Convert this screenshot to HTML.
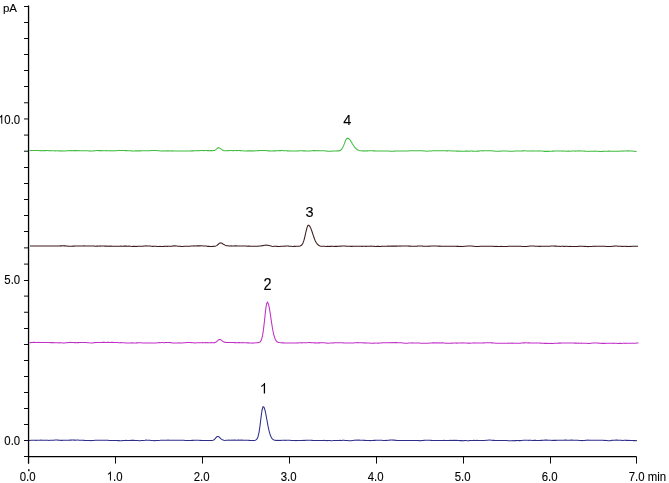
<!DOCTYPE html>
<html><head><meta charset="utf-8"><style>
html,body{margin:0;padding:0;background:#fff;}
svg{display:block;will-change:transform;}
text{font-family:"Liberation Sans",sans-serif;fill:#000;stroke:#000;stroke-width:0.1px;}
</style></head><body>
<svg width="669" height="483" viewBox="0 0 669 483">
<rect width="669" height="483" fill="#fff"/>
<g stroke="#000" fill="none">
<line x1="28.55" y1="5.6" x2="28.55" y2="463.6" stroke-width="1.3"/>
<line x1="28.5" y1="456.5" x2="636.5" y2="456.5" stroke-width="1.25"/>
<g stroke-width="0.95"><line x1="24" y1="456.50" x2="28.5" y2="456.50"/><line x1="24" y1="440.50" x2="28.5" y2="440.50"/><line x1="24" y1="424.50" x2="28.5" y2="424.50"/><line x1="24" y1="408.50" x2="28.5" y2="408.50"/><line x1="24" y1="392.50" x2="28.5" y2="392.50"/><line x1="24" y1="376.50" x2="28.5" y2="376.50"/><line x1="24" y1="360.50" x2="28.5" y2="360.50"/><line x1="24" y1="344.50" x2="28.5" y2="344.50"/><line x1="24" y1="328.50" x2="28.5" y2="328.50"/><line x1="24" y1="312.25" x2="28.5" y2="312.25"/><line x1="24" y1="296.10" x2="28.5" y2="296.10"/><line x1="24" y1="280.50" x2="28.5" y2="280.50"/><line x1="24" y1="264.10" x2="28.5" y2="264.10"/><line x1="24" y1="247.88" x2="28.5" y2="247.88"/><line x1="24" y1="231.50" x2="28.5" y2="231.50"/><line x1="24" y1="215.50" x2="28.5" y2="215.50"/><line x1="24" y1="199.50" x2="28.5" y2="199.50"/><line x1="24" y1="183.50" x2="28.5" y2="183.50"/><line x1="24" y1="167.50" x2="28.5" y2="167.50"/><line x1="24" y1="151.21" x2="28.5" y2="151.21"/><line x1="24" y1="135.08" x2="28.5" y2="135.08"/><line x1="24" y1="118.95" x2="28.5" y2="118.95"/><line x1="24" y1="102.78" x2="28.5" y2="102.78"/><line x1="24" y1="86.50" x2="28.5" y2="86.50"/><line x1="24" y1="70.50" x2="28.5" y2="70.50"/><line x1="24" y1="54.50" x2="28.5" y2="54.50"/><line x1="24" y1="38.50" x2="28.5" y2="38.50"/><line x1="24" y1="22.50" x2="28.5" y2="22.50"/><line x1="24" y1="6.50" x2="28.5" y2="6.50"/><line x1="28.5" y1="456.5" x2="28.5" y2="463.6"/><line x1="115.5" y1="456.5" x2="115.5" y2="463.6"/><line x1="202.5" y1="456.5" x2="202.5" y2="463.6"/><line x1="289.5" y1="456.5" x2="289.5" y2="463.6"/><line x1="376.5" y1="456.5" x2="376.5" y2="463.6"/><line x1="463.5" y1="456.5" x2="463.5" y2="463.6"/><line x1="550.5" y1="456.5" x2="550.5" y2="463.6"/><line x1="636.5" y1="456.5" x2="636.5" y2="463.6"/></g>
</g>
<path d="M29.0,440.41 L30.0,440.42 L31.0,440.34 L32.0,440.28 L33.0,440.33 L34.0,440.30 L35.0,440.33 L36.0,440.38 L37.0,440.31 L38.0,440.25 L39.0,440.23 L40.0,440.20 L41.0,440.07 L42.0,440.20 L43.0,440.19 L44.0,440.25 L45.0,440.29 L46.0,440.28 L47.0,440.33 L48.0,440.33 L49.0,440.43 L50.0,440.32 L51.0,440.28 L52.0,440.25 L53.0,440.18 L54.0,440.15 L55.0,440.07 L56.0,440.04 L57.0,440.08 L58.0,440.11 L59.0,440.19 L60.0,440.19 L61.0,440.37 L62.0,440.37 L63.0,440.30 L64.0,440.31 L65.0,440.29 L66.0,440.25 L67.0,440.17 L68.0,440.24 L69.0,440.23 L70.0,440.14 L71.0,440.14 L72.0,440.08 L73.0,440.08 L74.0,440.12 L75.0,440.11 L76.0,440.21 L77.0,440.10 L78.0,440.09 L79.0,440.27 L80.0,440.24 L81.0,440.22 L82.0,440.32 L83.0,440.27 L84.0,440.36 L85.0,440.44 L86.0,440.46 L87.0,440.48 L88.0,440.46 L89.0,440.53 L90.0,440.53 L91.0,440.64 L92.0,440.58 L93.0,440.56 L94.0,440.40 L95.0,440.30 L96.0,440.31 L97.0,440.28 L98.0,440.23 L99.0,440.23 L100.0,440.24 L101.0,440.24 L102.0,440.17 L103.0,440.22 L104.0,440.21 L105.0,440.16 L106.0,440.17 L107.0,440.25 L108.0,440.29 L109.0,440.41 L110.0,440.50 L111.0,440.45 L112.0,440.55 L113.0,440.57 L114.0,440.59 L115.0,440.53 L116.0,440.55 L117.0,440.59 L118.0,440.61 L119.0,440.62 L120.0,440.68 L121.0,440.69 L122.0,440.64 L123.0,440.53 L124.0,440.51 L125.0,440.51 L126.0,440.38 L127.0,440.47 L128.0,440.49 L129.0,440.45 L130.0,440.42 L131.0,440.36 L132.0,440.29 L133.0,440.38 L134.0,440.33 L135.0,440.46 L136.0,440.55 L137.0,440.53 L138.0,440.60 L139.0,440.74 L140.0,440.72 L141.0,440.60 L142.0,440.52 L143.0,440.41 L144.0,440.41 L145.0,440.29 L146.0,440.10 L147.0,440.18 L148.0,440.23 L149.0,440.25 L150.0,440.30 L151.0,440.43 L152.0,440.46 L153.0,440.51 L154.0,440.69 L155.0,440.62 L156.0,440.55 L157.0,440.55 L158.0,440.40 L159.0,440.40 L160.0,440.34 L161.0,440.23 L162.0,440.23 L163.0,440.22 L164.0,440.20 L165.0,440.23 L166.0,440.17 L167.0,440.18 L168.0,440.13 L169.0,440.25 L170.0,440.16 L171.0,440.17 L172.0,440.19 L173.0,440.24 L174.0,440.16 L175.0,440.24 L176.0,440.18 L177.0,440.20 L178.0,440.22 L179.0,440.16 L180.0,440.25 L181.0,440.23 L182.0,440.21 L183.0,440.35 L184.0,440.29 L185.0,440.40 L186.0,440.51 L187.0,440.54 L188.0,440.54 L189.0,440.59 L190.0,440.58 L191.0,440.56 L192.0,440.38 L193.0,440.37 L194.0,440.24 L195.0,440.19 L196.0,440.25 L197.0,440.22 L198.0,440.27 L199.0,440.34 L200.0,440.42 L201.0,440.39 L202.0,440.45 L203.0,440.45 L204.0,440.45 L205.0,440.49 L206.0,440.45 L207.0,440.48 L208.0,440.47 L209.0,440.55 L210.0,440.51 L211.0,440.53 L212.0,440.47 L213.0,440.17 L214.0,439.75 L215.0,438.90 L216.0,437.65 L217.0,436.56 L218.0,436.42 L219.0,437.01 L220.0,437.86 L221.0,438.83 L222.0,439.54 L223.0,440.09 L224.0,440.34 L225.0,440.43 L226.0,440.30 L227.0,440.35 L228.0,440.28 L229.0,440.14 L230.0,440.22 L231.0,440.21 L232.0,440.09 L233.0,440.21 L234.0,440.12 L235.0,440.13 L236.0,440.21 L237.0,440.19 L238.0,440.08 L239.0,440.13 L240.0,440.16 L241.0,440.14 L242.0,440.14 L243.0,440.18 L244.0,440.25 L245.0,440.15 L246.0,440.25 L247.0,440.27 L248.0,440.26 L249.0,440.37 L250.0,440.47 L251.0,440.49 L252.0,440.44 L253.0,440.57 L254.0,440.49 L255.0,440.40 L256.0,439.90 L257.0,438.97 L258.0,436.73 L259.0,432.60 L260.0,425.87 L261.0,417.63 L262.0,410.25 L263.0,406.59 L264.0,407.25 L265.0,410.19 L266.0,414.87 L267.0,420.50 L268.0,425.89 L269.0,430.63 L270.0,434.20 L271.0,436.78 L272.0,438.54 L273.0,439.47 L274.0,439.93 L275.0,440.31 L276.0,440.36 L277.0,440.42 L278.0,440.31 L279.0,440.43 L280.0,440.30 L281.0,440.42 L282.0,440.35 L283.0,440.31 L284.0,440.32 L285.0,440.37 L286.0,440.25 L287.0,440.22 L288.0,440.30 L289.0,440.30 L290.0,440.33 L291.0,440.41 L292.0,440.45 L293.0,440.51 L294.0,440.55 L295.0,440.54 L296.0,440.61 L297.0,440.52 L298.0,440.54 L299.0,440.48 L300.0,440.50 L301.0,440.44 L302.0,440.46 L303.0,440.39 L304.0,440.45 L305.0,440.36 L306.0,440.25 L307.0,440.26 L308.0,440.32 L309.0,440.19 L310.0,440.34 L311.0,440.31 L312.0,440.37 L313.0,440.46 L314.0,440.42 L315.0,440.45 L316.0,440.47 L317.0,440.52 L318.0,440.41 L319.0,440.48 L320.0,440.45 L321.0,440.44 L322.0,440.40 L323.0,440.40 L324.0,440.39 L325.0,440.44 L326.0,440.47 L327.0,440.62 L328.0,440.57 L329.0,440.57 L330.0,440.55 L331.0,440.66 L332.0,440.65 L333.0,440.60 L334.0,440.52 L335.0,440.50 L336.0,440.50 L337.0,440.52 L338.0,440.43 L339.0,440.42 L340.0,440.34 L341.0,440.40 L342.0,440.36 L343.0,440.28 L344.0,440.25 L345.0,440.43 L346.0,440.41 L347.0,440.50 L348.0,440.53 L349.0,440.65 L350.0,440.68 L351.0,440.66 L352.0,440.54 L353.0,440.49 L354.0,440.30 L355.0,440.24 L356.0,440.13 L357.0,440.15 L358.0,440.11 L359.0,440.13 L360.0,440.21 L361.0,440.24 L362.0,440.33 L363.0,440.35 L364.0,440.39 L365.0,440.39 L366.0,440.43 L367.0,440.49 L368.0,440.46 L369.0,440.49 L370.0,440.62 L371.0,440.50 L372.0,440.57 L373.0,440.51 L374.0,440.34 L375.0,440.39 L376.0,440.33 L377.0,440.23 L378.0,440.23 L379.0,440.25 L380.0,440.17 L381.0,440.27 L382.0,440.31 L383.0,440.41 L384.0,440.43 L385.0,440.45 L386.0,440.39 L387.0,440.40 L388.0,440.32 L389.0,440.26 L390.0,440.13 L391.0,440.06 L392.0,440.06 L393.0,440.12 L394.0,440.14 L395.0,440.33 L396.0,440.36 L397.0,440.45 L398.0,440.50 L399.0,440.53 L400.0,440.50 L401.0,440.43 L402.0,440.57 L403.0,440.58 L404.0,440.55 L405.0,440.56 L406.0,440.58 L407.0,440.48 L408.0,440.57 L409.0,440.47 L410.0,440.42 L411.0,440.43 L412.0,440.49 L413.0,440.40 L414.0,440.49 L415.0,440.56 L416.0,440.51 L417.0,440.54 L418.0,440.59 L419.0,440.64 L420.0,440.67 L421.0,440.63 L422.0,440.58 L423.0,440.43 L424.0,440.36 L425.0,440.32 L426.0,440.35 L427.0,440.26 L428.0,440.31 L429.0,440.26 L430.0,440.31 L431.0,440.39 L432.0,440.50 L433.0,440.54 L434.0,440.55 L435.0,440.48 L436.0,440.51 L437.0,440.49 L438.0,440.48 L439.0,440.41 L440.0,440.52 L441.0,440.41 L442.0,440.53 L443.0,440.52 L444.0,440.38 L445.0,440.44 L446.0,440.50 L447.0,440.52 L448.0,440.44 L449.0,440.41 L450.0,440.39 L451.0,440.49 L452.0,440.36 L453.0,440.40 L454.0,440.32 L455.0,440.38 L456.0,440.46 L457.0,440.36 L458.0,440.52 L459.0,440.51 L460.0,440.62 L461.0,440.62 L462.0,440.56 L463.0,440.67 L464.0,440.61 L465.0,440.55 L466.0,440.56 L467.0,440.65 L468.0,440.66 L469.0,440.64 L470.0,440.59 L471.0,440.59 L472.0,440.53 L473.0,440.55 L474.0,440.36 L475.0,440.44 L476.0,440.44 L477.0,440.33 L478.0,440.48 L479.0,440.46 L480.0,440.52 L481.0,440.44 L482.0,440.47 L483.0,440.48 L484.0,440.56 L485.0,440.44 L486.0,440.33 L487.0,440.27 L488.0,440.17 L489.0,440.08 L490.0,440.07 L491.0,440.21 L492.0,440.18 L493.0,440.36 L494.0,440.33 L495.0,440.41 L496.0,440.50 L497.0,440.47 L498.0,440.50 L499.0,440.59 L500.0,440.57 L501.0,440.55 L502.0,440.52 L503.0,440.56 L504.0,440.56 L505.0,440.51 L506.0,440.56 L507.0,440.50 L508.0,440.65 L509.0,440.65 L510.0,440.72 L511.0,440.72 L512.0,440.66 L513.0,440.60 L514.0,440.72 L515.0,440.57 L516.0,440.61 L517.0,440.57 L518.0,440.56 L519.0,440.61 L520.0,440.61 L521.0,440.43 L522.0,440.42 L523.0,440.30 L524.0,440.30 L525.0,440.25 L526.0,440.22 L527.0,440.23 L528.0,440.25 L529.0,440.37 L530.0,440.32 L531.0,440.28 L532.0,440.40 L533.0,440.42 L534.0,440.36 L535.0,440.34 L536.0,440.39 L537.0,440.40 L538.0,440.47 L539.0,440.44 L540.0,440.44 L541.0,440.39 L542.0,440.36 L543.0,440.33 L544.0,440.23 L545.0,440.12 L546.0,440.10 L547.0,440.13 L548.0,440.15 L549.0,440.19 L550.0,440.20 L551.0,440.29 L552.0,440.44 L553.0,440.32 L554.0,440.37 L555.0,440.36 L556.0,440.37 L557.0,440.22 L558.0,440.20 L559.0,440.17 L560.0,440.18 L561.0,440.19 L562.0,440.27 L563.0,440.24 L564.0,440.24 L565.0,440.10 L566.0,440.10 L567.0,440.20 L568.0,440.23 L569.0,440.16 L570.0,440.17 L571.0,440.07 L572.0,440.12 L573.0,440.21 L574.0,440.19 L575.0,440.22 L576.0,440.30 L577.0,440.26 L578.0,440.33 L579.0,440.42 L580.0,440.54 L581.0,440.59 L582.0,440.61 L583.0,440.52 L584.0,440.43 L585.0,440.37 L586.0,440.25 L587.0,440.21 L588.0,440.10 L589.0,440.23 L590.0,440.15 L591.0,440.27 L592.0,440.24 L593.0,440.20 L594.0,440.19 L595.0,440.21 L596.0,440.28 L597.0,440.30 L598.0,440.22 L599.0,440.23 L600.0,440.32 L601.0,440.34 L602.0,440.32 L603.0,440.31 L604.0,440.41 L605.0,440.37 L606.0,440.48 L607.0,440.56 L608.0,440.68 L609.0,440.65 L610.0,440.66 L611.0,440.52 L612.0,440.39 L613.0,440.29 L614.0,440.32 L615.0,440.21 L616.0,440.12 L617.0,440.08 L618.0,440.19 L619.0,440.26 L620.0,440.27 L621.0,440.29 L622.0,440.38 L623.0,440.44 L624.0,440.33 L625.0,440.31 L626.0,440.37 L627.0,440.39 L628.0,440.45 L629.0,440.38 L630.0,440.48 L631.0,440.48 L632.0,440.47 L633.0,440.46 L634.0,440.63 L635.0,440.56 L636.0,440.67 L637.0,440.59" fill="none" stroke="#2e2e8a" stroke-width="1.05" stroke-linejoin="round"/><path d="M29.5,342.65 L30.5,342.61 L31.5,342.58 L32.5,342.43 L33.5,342.37 L34.5,342.36 L35.5,342.42 L36.5,342.46 L37.5,342.42 L38.5,342.39 L39.5,342.42 L40.5,342.46 L41.5,342.47 L42.5,342.49 L43.5,342.52 L44.5,342.51 L45.5,342.45 L46.5,342.59 L47.5,342.52 L48.5,342.58 L49.5,342.55 L50.5,342.63 L51.5,342.57 L52.5,342.61 L53.5,342.64 L54.5,342.65 L55.5,342.78 L56.5,342.74 L57.5,342.72 L58.5,342.76 L59.5,342.89 L60.5,342.85 L61.5,342.84 L62.5,342.95 L63.5,342.92 L64.5,342.93 L65.5,342.70 L66.5,342.66 L67.5,342.62 L68.5,342.54 L69.5,342.50 L70.5,342.36 L71.5,342.41 L72.5,342.41 L73.5,342.46 L74.5,342.61 L75.5,342.58 L76.5,342.65 L77.5,342.56 L78.5,342.63 L79.5,342.55 L80.5,342.49 L81.5,342.56 L82.5,342.56 L83.5,342.42 L84.5,342.50 L85.5,342.56 L86.5,342.57 L87.5,342.69 L88.5,342.75 L89.5,342.84 L90.5,342.90 L91.5,342.95 L92.5,342.91 L93.5,342.75 L94.5,342.62 L95.5,342.57 L96.5,342.54 L97.5,342.41 L98.5,342.42 L99.5,342.40 L100.5,342.49 L101.5,342.44 L102.5,342.35 L103.5,342.35 L104.5,342.39 L105.5,342.41 L106.5,342.43 L107.5,342.34 L108.5,342.36 L109.5,342.44 L110.5,342.40 L111.5,342.38 L112.5,342.39 L113.5,342.51 L114.5,342.45 L115.5,342.53 L116.5,342.54 L117.5,342.59 L118.5,342.68 L119.5,342.71 L120.5,342.64 L121.5,342.67 L122.5,342.82 L123.5,342.80 L124.5,342.82 L125.5,342.99 L126.5,342.92 L127.5,342.99 L128.5,342.92 L129.5,342.99 L130.5,342.93 L131.5,342.88 L132.5,342.85 L133.5,342.94 L134.5,342.95 L135.5,342.97 L136.5,342.82 L137.5,342.89 L138.5,342.84 L139.5,342.85 L140.5,342.79 L141.5,342.83 L142.5,342.90 L143.5,343.00 L144.5,342.90 L145.5,342.99 L146.5,343.06 L147.5,343.09 L148.5,342.96 L149.5,342.95 L150.5,343.07 L151.5,343.07 L152.5,342.98 L153.5,342.91 L154.5,343.05 L155.5,342.92 L156.5,342.94 L157.5,342.82 L158.5,342.78 L159.5,342.61 L160.5,342.68 L161.5,342.58 L162.5,342.60 L163.5,342.66 L164.5,342.64 L165.5,342.52 L166.5,342.51 L167.5,342.53 L168.5,342.56 L169.5,342.58 L170.5,342.62 L171.5,342.74 L172.5,342.91 L173.5,343.01 L174.5,342.92 L175.5,343.01 L176.5,343.03 L177.5,342.90 L178.5,343.01 L179.5,342.87 L180.5,342.93 L181.5,342.91 L182.5,342.91 L183.5,342.82 L184.5,342.76 L185.5,342.70 L186.5,342.59 L187.5,342.55 L188.5,342.47 L189.5,342.47 L190.5,342.45 L191.5,342.61 L192.5,342.67 L193.5,342.71 L194.5,342.86 L195.5,342.90 L196.5,342.85 L197.5,342.79 L198.5,342.81 L199.5,342.72 L200.5,342.69 L201.5,342.71 L202.5,342.63 L203.5,342.69 L204.5,342.70 L205.5,342.63 L206.5,342.72 L207.5,342.63 L208.5,342.74 L209.5,342.75 L210.5,342.70 L211.5,342.63 L212.5,342.69 L213.5,342.65 L214.5,342.64 L215.5,342.23 L216.5,341.71 L217.5,340.76 L218.5,339.76 L219.5,339.41 L220.5,339.60 L221.5,340.40 L222.5,341.10 L223.5,341.84 L224.5,342.27 L225.5,342.37 L226.5,342.56 L227.5,342.60 L228.5,342.45 L229.5,342.49 L230.5,342.54 L231.5,342.45 L232.5,342.58 L233.5,342.52 L234.5,342.64 L235.5,342.57 L236.5,342.65 L237.5,342.74 L238.5,342.63 L239.5,342.64 L240.5,342.69 L241.5,342.67 L242.5,342.63 L243.5,342.67 L244.5,342.67 L245.5,342.80 L246.5,342.80 L247.5,342.89 L248.5,342.85 L249.5,343.03 L250.5,342.99 L251.5,343.09 L252.5,343.11 L253.5,343.01 L254.5,343.01 L255.5,342.85 L256.5,342.75 L257.5,342.69 L258.5,342.44 L259.5,342.30 L260.5,341.51 L261.5,339.64 L262.5,335.91 L263.5,329.38 L264.5,320.64 L265.5,311.08 L266.5,303.96 L267.5,302.07 L268.5,304.13 L269.5,308.84 L270.5,315.33 L271.5,322.07 L272.5,328.49 L273.5,333.53 L274.5,337.32 L275.5,339.83 L276.5,341.24 L277.5,342.06 L278.5,342.42 L279.5,342.56 L280.5,342.65 L281.5,342.72 L282.5,342.86 L283.5,342.89 L284.5,342.96 L285.5,343.08 L286.5,342.98 L287.5,343.00 L288.5,343.07 L289.5,342.97 L290.5,342.97 L291.5,343.03 L292.5,342.99 L293.5,343.03 L294.5,343.01 L295.5,343.04 L296.5,343.00 L297.5,342.89 L298.5,342.91 L299.5,342.85 L300.5,342.77 L301.5,342.89 L302.5,342.76 L303.5,342.71 L304.5,342.65 L305.5,342.69 L306.5,342.69 L307.5,342.65 L308.5,342.59 L309.5,342.60 L310.5,342.60 L311.5,342.76 L312.5,342.80 L313.5,342.81 L314.5,342.88 L315.5,342.86 L316.5,342.93 L317.5,342.89 L318.5,342.80 L319.5,342.89 L320.5,342.74 L321.5,342.82 L322.5,342.80 L323.5,342.81 L324.5,342.84 L325.5,343.02 L326.5,342.97 L327.5,343.11 L328.5,343.21 L329.5,343.08 L330.5,343.05 L331.5,343.04 L332.5,342.93 L333.5,342.87 L334.5,342.82 L335.5,342.67 L336.5,342.69 L337.5,342.70 L338.5,342.68 L339.5,342.83 L340.5,342.84 L341.5,342.85 L342.5,342.75 L343.5,342.89 L344.5,342.91 L345.5,342.92 L346.5,343.03 L347.5,343.05 L348.5,343.07 L349.5,343.09 L350.5,343.10 L351.5,343.02 L352.5,342.98 L353.5,342.94 L354.5,342.82 L355.5,342.76 L356.5,342.68 L357.5,342.61 L358.5,342.68 L359.5,342.70 L360.5,342.80 L361.5,342.81 L362.5,342.81 L363.5,342.89 L364.5,342.95 L365.5,342.86 L366.5,343.01 L367.5,342.92 L368.5,343.01 L369.5,343.05 L370.5,343.16 L371.5,343.19 L372.5,343.16 L373.5,343.09 L374.5,343.17 L375.5,343.08 L376.5,343.06 L377.5,343.17 L378.5,343.12 L379.5,343.08 L380.5,343.01 L381.5,342.97 L382.5,342.79 L383.5,342.78 L384.5,342.71 L385.5,342.73 L386.5,342.67 L387.5,342.71 L388.5,342.69 L389.5,342.65 L390.5,342.63 L391.5,342.70 L392.5,342.61 L393.5,342.75 L394.5,342.63 L395.5,342.61 L396.5,342.63 L397.5,342.77 L398.5,342.68 L399.5,342.65 L400.5,342.69 L401.5,342.78 L402.5,342.99 L403.5,343.09 L404.5,343.19 L405.5,343.25 L406.5,343.15 L407.5,343.19 L408.5,343.09 L409.5,343.08 L410.5,343.00 L411.5,342.94 L412.5,342.77 L413.5,342.90 L414.5,342.93 L415.5,342.99 L416.5,342.92 L417.5,343.00 L418.5,343.03 L419.5,343.05 L420.5,343.19 L421.5,343.20 L422.5,343.18 L423.5,343.23 L424.5,343.22 L425.5,343.18 L426.5,343.16 L427.5,343.16 L428.5,343.23 L429.5,343.09 L430.5,343.04 L431.5,342.99 L432.5,342.86 L433.5,342.87 L434.5,342.87 L435.5,342.93 L436.5,342.87 L437.5,342.86 L438.5,342.95 L439.5,342.87 L440.5,342.93 L441.5,342.89 L442.5,342.84 L443.5,342.98 L444.5,343.07 L445.5,343.21 L446.5,343.21 L447.5,343.31 L448.5,343.29 L449.5,343.22 L450.5,343.29 L451.5,343.12 L452.5,343.20 L453.5,343.06 L454.5,343.01 L455.5,343.04 L456.5,343.11 L457.5,343.11 L458.5,342.91 L459.5,342.94 L460.5,342.91 L461.5,342.93 L462.5,342.84 L463.5,342.92 L464.5,342.94 L465.5,343.08 L466.5,343.04 L467.5,343.20 L468.5,343.12 L469.5,343.11 L470.5,343.17 L471.5,343.10 L472.5,342.98 L473.5,343.02 L474.5,342.89 L475.5,342.98 L476.5,342.96 L477.5,342.97 L478.5,342.95 L479.5,342.90 L480.5,342.90 L481.5,342.90 L482.5,342.97 L483.5,342.84 L484.5,342.96 L485.5,342.79 L486.5,342.79 L487.5,342.76 L488.5,342.84 L489.5,342.76 L490.5,342.74 L491.5,342.87 L492.5,342.85 L493.5,342.98 L494.5,343.09 L495.5,343.20 L496.5,343.25 L497.5,343.24 L498.5,343.20 L499.5,343.22 L500.5,343.21 L501.5,343.34 L502.5,343.33 L503.5,343.35 L504.5,343.26 L505.5,343.29 L506.5,343.31 L507.5,343.25 L508.5,343.14 L509.5,343.17 L510.5,343.22 L511.5,343.12 L512.5,343.13 L513.5,343.18 L514.5,343.28 L515.5,343.35 L516.5,343.27 L517.5,343.29 L518.5,343.30 L519.5,343.26 L520.5,343.19 L521.5,343.02 L522.5,342.93 L523.5,342.82 L524.5,342.89 L525.5,342.84 L526.5,342.76 L527.5,342.92 L528.5,342.81 L529.5,342.88 L530.5,343.00 L531.5,342.98 L532.5,342.98 L533.5,342.94 L534.5,342.93 L535.5,343.03 L536.5,342.98 L537.5,343.02 L538.5,343.07 L539.5,343.02 L540.5,343.11 L541.5,343.22 L542.5,343.27 L543.5,343.30 L544.5,343.37 L545.5,343.37 L546.5,343.33 L547.5,343.40 L548.5,343.37 L549.5,343.42 L550.5,343.45 L551.5,343.38 L552.5,343.40 L553.5,343.42 L554.5,343.34 L555.5,343.25 L556.5,343.26 L557.5,343.21 L558.5,343.14 L559.5,343.09 L560.5,343.11 L561.5,343.08 L562.5,343.06 L563.5,343.01 L564.5,342.97 L565.5,343.01 L566.5,342.92 L567.5,342.97 L568.5,343.04 L569.5,343.05 L570.5,343.06 L571.5,343.02 L572.5,343.07 L573.5,343.09 L574.5,343.11 L575.5,343.09 L576.5,343.14 L577.5,343.19 L578.5,343.08 L579.5,343.16 L580.5,343.18 L581.5,343.13 L582.5,343.17 L583.5,343.29 L584.5,343.20 L585.5,343.34 L586.5,343.32 L587.5,343.45 L588.5,343.47 L589.5,343.36 L590.5,343.22 L591.5,343.20 L592.5,343.10 L593.5,343.05 L594.5,342.97 L595.5,343.00 L596.5,343.06 L597.5,343.08 L598.5,343.14 L599.5,343.31 L600.5,343.25 L601.5,343.37 L602.5,343.33 L603.5,343.38 L604.5,343.28 L605.5,343.41 L606.5,343.30 L607.5,343.25 L608.5,343.28 L609.5,343.30 L610.5,343.24 L611.5,343.32 L612.5,343.33 L613.5,343.39 L614.5,343.34 L615.5,343.33 L616.5,343.33 L617.5,343.41 L618.5,343.44 L619.5,343.36 L620.5,343.31 L621.5,343.40 L622.5,343.33 L623.5,343.30 L624.5,343.28 L625.5,343.37 L626.5,343.35 L627.5,343.30 L628.5,343.26 L629.5,343.27 L630.5,343.21 L631.5,343.31 L632.5,343.19 L633.5,343.20 L634.5,343.19 L635.5,343.16 L636.5,343.09 L637.5,343.06 L638.5,343.10" fill="none" stroke="#c030c8" stroke-width="1.05" stroke-linejoin="round"/><path d="M30.0,246.03 L31.0,245.97 L32.0,246.00 L33.0,245.98 L34.0,246.02 L35.0,246.10 L36.0,246.05 L37.0,246.06 L38.0,245.97 L39.0,245.95 L40.0,245.94 L41.0,245.97 L42.0,245.98 L43.0,246.01 L44.0,245.90 L45.0,246.03 L46.0,246.08 L47.0,246.05 L48.0,245.98 L49.0,246.03 L50.0,245.98 L51.0,245.98 L52.0,246.07 L53.0,245.99 L54.0,245.97 L55.0,245.97 L56.0,245.99 L57.0,245.93 L58.0,245.92 L59.0,245.90 L60.0,245.89 L61.0,245.85 L62.0,245.85 L63.0,245.77 L64.0,245.86 L65.0,245.89 L66.0,246.03 L67.0,246.01 L68.0,246.11 L69.0,246.15 L70.0,246.29 L71.0,246.30 L72.0,246.22 L73.0,246.12 L74.0,246.14 L75.0,246.08 L76.0,246.01 L77.0,245.95 L78.0,245.95 L79.0,245.97 L80.0,245.95 L81.0,245.96 L82.0,245.99 L83.0,246.04 L84.0,245.89 L85.0,245.98 L86.0,245.90 L87.0,245.92 L88.0,246.04 L89.0,246.01 L90.0,246.07 L91.0,245.99 L92.0,245.93 L93.0,246.00 L94.0,246.06 L95.0,246.14 L96.0,246.17 L97.0,246.10 L98.0,246.10 L99.0,246.05 L100.0,246.13 L101.0,246.05 L102.0,246.04 L103.0,246.01 L104.0,246.00 L105.0,246.11 L106.0,246.03 L107.0,246.18 L108.0,246.07 L109.0,246.22 L110.0,246.12 L111.0,246.12 L112.0,246.24 L113.0,246.17 L114.0,246.25 L115.0,246.17 L116.0,246.15 L117.0,246.27 L118.0,246.26 L119.0,246.28 L120.0,246.25 L121.0,246.12 L122.0,246.18 L123.0,246.15 L124.0,246.08 L125.0,246.13 L126.0,246.01 L127.0,246.14 L128.0,246.15 L129.0,246.11 L130.0,246.18 L131.0,246.35 L132.0,246.42 L133.0,246.32 L134.0,246.36 L135.0,246.42 L136.0,246.32 L137.0,246.42 L138.0,246.35 L139.0,246.28 L140.0,246.33 L141.0,246.33 L142.0,246.24 L143.0,246.19 L144.0,246.00 L145.0,246.01 L146.0,245.88 L147.0,245.90 L148.0,245.92 L149.0,245.95 L150.0,246.04 L151.0,246.20 L152.0,246.32 L153.0,246.36 L154.0,246.35 L155.0,246.31 L156.0,246.28 L157.0,246.43 L158.0,246.40 L159.0,246.43 L160.0,246.36 L161.0,246.40 L162.0,246.46 L163.0,246.43 L164.0,246.37 L165.0,246.31 L166.0,246.32 L167.0,246.38 L168.0,246.30 L169.0,246.32 L170.0,246.26 L171.0,246.23 L172.0,246.13 L173.0,245.97 L174.0,245.87 L175.0,245.89 L176.0,245.94 L177.0,246.03 L178.0,246.15 L179.0,246.25 L180.0,246.19 L181.0,246.38 L182.0,246.40 L183.0,246.40 L184.0,246.34 L185.0,246.27 L186.0,246.33 L187.0,246.30 L188.0,246.27 L189.0,246.30 L190.0,246.19 L191.0,246.09 L192.0,246.10 L193.0,246.06 L194.0,245.89 L195.0,245.92 L196.0,245.93 L197.0,245.82 L198.0,245.88 L199.0,245.89 L200.0,245.86 L201.0,245.82 L202.0,245.82 L203.0,245.90 L204.0,245.94 L205.0,245.97 L206.0,246.02 L207.0,246.26 L208.0,246.36 L209.0,246.36 L210.0,246.44 L211.0,246.48 L212.0,246.46 L213.0,246.36 L214.0,246.30 L215.0,246.21 L216.0,245.89 L217.0,245.36 L218.0,244.49 L219.0,243.57 L220.0,242.88 L221.0,242.92 L222.0,243.30 L223.0,243.96 L224.0,244.58 L225.0,245.13 L226.0,245.66 L227.0,245.77 L228.0,245.82 L229.0,245.94 L230.0,245.97 L231.0,245.87 L232.0,245.94 L233.0,245.91 L234.0,245.94 L235.0,245.87 L236.0,245.87 L237.0,246.03 L238.0,246.01 L239.0,245.96 L240.0,245.98 L241.0,245.94 L242.0,246.03 L243.0,245.99 L244.0,246.08 L245.0,246.05 L246.0,246.08 L247.0,246.15 L248.0,246.10 L249.0,246.14 L250.0,246.23 L251.0,246.27 L252.0,246.27 L253.0,246.25 L254.0,246.30 L255.0,246.30 L256.0,246.18 L257.0,246.20 L258.0,246.15 L259.0,245.97 L260.0,246.01 L261.0,245.88 L262.0,245.69 L263.0,245.63 L264.0,245.32 L265.0,245.19 L266.0,245.10 L267.0,245.18 L268.0,245.29 L269.0,245.49 L270.0,245.78 L271.0,245.99 L272.0,246.30 L273.0,246.41 L274.0,246.33 L275.0,246.32 L276.0,246.35 L277.0,246.36 L278.0,246.43 L279.0,246.43 L280.0,246.41 L281.0,246.26 L282.0,246.33 L283.0,246.24 L284.0,246.16 L285.0,246.14 L286.0,245.93 L287.0,245.93 L288.0,246.05 L289.0,246.14 L290.0,246.19 L291.0,246.22 L292.0,246.35 L293.0,246.44 L294.0,246.36 L295.0,246.38 L296.0,246.35 L297.0,246.29 L298.0,246.30 L299.0,246.16 L300.0,245.98 L301.0,245.55 L302.0,244.73 L303.0,242.88 L304.0,240.13 L305.0,236.08 L306.0,231.51 L307.0,227.63 L308.0,225.23 L309.0,225.34 L310.0,226.60 L311.0,228.81 L312.0,231.51 L313.0,234.61 L314.0,237.48 L315.0,240.17 L316.0,242.21 L317.0,243.72 L318.0,244.78 L319.0,245.47 L320.0,245.99 L321.0,246.18 L322.0,246.34 L323.0,246.32 L324.0,246.35 L325.0,246.33 L326.0,246.43 L327.0,246.39 L328.0,246.32 L329.0,246.43 L330.0,246.34 L331.0,246.36 L332.0,246.33 L333.0,246.35 L334.0,246.45 L335.0,246.38 L336.0,246.35 L337.0,246.38 L338.0,246.30 L339.0,246.32 L340.0,246.11 L341.0,246.17 L342.0,245.97 L343.0,246.08 L344.0,246.07 L345.0,246.03 L346.0,246.14 L347.0,246.17 L348.0,246.22 L349.0,246.26 L350.0,246.30 L351.0,246.39 L352.0,246.38 L353.0,246.35 L354.0,246.20 L355.0,246.21 L356.0,246.29 L357.0,246.16 L358.0,246.27 L359.0,246.22 L360.0,246.35 L361.0,246.23 L362.0,246.38 L363.0,246.32 L364.0,246.30 L365.0,246.27 L366.0,246.37 L367.0,246.29 L368.0,246.20 L369.0,246.20 L370.0,246.25 L371.0,246.13 L372.0,246.20 L373.0,246.17 L374.0,246.23 L375.0,246.38 L376.0,246.42 L377.0,246.38 L378.0,246.38 L379.0,246.37 L380.0,246.42 L381.0,246.37 L382.0,246.29 L383.0,246.24 L384.0,246.28 L385.0,246.28 L386.0,246.29 L387.0,246.23 L388.0,246.13 L389.0,246.08 L390.0,246.15 L391.0,246.07 L392.0,246.11 L393.0,246.01 L394.0,246.12 L395.0,246.05 L396.0,246.12 L397.0,246.12 L398.0,246.06 L399.0,245.98 L400.0,246.12 L401.0,246.05 L402.0,246.10 L403.0,245.99 L404.0,245.97 L405.0,246.06 L406.0,245.99 L407.0,245.97 L408.0,246.03 L409.0,246.11 L410.0,246.06 L411.0,246.18 L412.0,246.20 L413.0,246.22 L414.0,246.15 L415.0,246.21 L416.0,246.17 L417.0,246.12 L418.0,245.99 L419.0,246.01 L420.0,245.94 L421.0,246.02 L422.0,245.94 L423.0,246.12 L424.0,246.19 L425.0,246.16 L426.0,246.20 L427.0,246.22 L428.0,246.21 L429.0,246.10 L430.0,246.21 L431.0,246.05 L432.0,246.01 L433.0,245.97 L434.0,245.98 L435.0,246.08 L436.0,245.99 L437.0,246.04 L438.0,246.18 L439.0,246.14 L440.0,246.14 L441.0,246.25 L442.0,246.24 L443.0,246.24 L444.0,246.26 L445.0,246.17 L446.0,246.29 L447.0,246.27 L448.0,246.16 L449.0,246.18 L450.0,246.24 L451.0,246.25 L452.0,246.22 L453.0,246.20 L454.0,246.25 L455.0,246.21 L456.0,246.29 L457.0,246.36 L458.0,246.28 L459.0,246.39 L460.0,246.46 L461.0,246.39 L462.0,246.51 L463.0,246.50 L464.0,246.34 L465.0,246.25 L466.0,246.20 L467.0,246.05 L468.0,245.96 L469.0,246.02 L470.0,246.02 L471.0,246.02 L472.0,246.10 L473.0,246.23 L474.0,246.34 L475.0,246.50 L476.0,246.50 L477.0,246.51 L478.0,246.46 L479.0,246.42 L480.0,246.25 L481.0,246.28 L482.0,246.31 L483.0,246.30 L484.0,246.19 L485.0,246.23 L486.0,246.27 L487.0,246.24 L488.0,246.28 L489.0,246.22 L490.0,246.28 L491.0,246.29 L492.0,246.22 L493.0,246.26 L494.0,246.40 L495.0,246.38 L496.0,246.42 L497.0,246.37 L498.0,246.41 L499.0,246.44 L500.0,246.46 L501.0,246.34 L502.0,246.46 L503.0,246.42 L504.0,246.49 L505.0,246.41 L506.0,246.41 L507.0,246.42 L508.0,246.31 L509.0,246.20 L510.0,246.20 L511.0,246.17 L512.0,246.26 L513.0,246.15 L514.0,246.16 L515.0,246.22 L516.0,246.15 L517.0,246.22 L518.0,246.28 L519.0,246.23 L520.0,246.24 L521.0,246.34 L522.0,246.42 L523.0,246.42 L524.0,246.46 L525.0,246.48 L526.0,246.48 L527.0,246.42 L528.0,246.30 L529.0,246.18 L530.0,246.05 L531.0,246.05 L532.0,246.06 L533.0,246.05 L534.0,246.09 L535.0,246.17 L536.0,246.17 L537.0,246.32 L538.0,246.32 L539.0,246.36 L540.0,246.37 L541.0,246.35 L542.0,246.32 L543.0,246.31 L544.0,246.31 L545.0,246.35 L546.0,246.33 L547.0,246.35 L548.0,246.20 L549.0,246.19 L550.0,246.19 L551.0,246.02 L552.0,246.02 L553.0,245.99 L554.0,245.97 L555.0,246.14 L556.0,246.09 L557.0,246.25 L558.0,246.22 L559.0,246.25 L560.0,246.40 L561.0,246.33 L562.0,246.28 L563.0,246.34 L564.0,246.36 L565.0,246.41 L566.0,246.32 L567.0,246.34 L568.0,246.47 L569.0,246.45 L570.0,246.39 L571.0,246.45 L572.0,246.48 L573.0,246.56 L574.0,246.56 L575.0,246.57 L576.0,246.52 L577.0,246.40 L578.0,246.36 L579.0,246.29 L580.0,246.24 L581.0,246.18 L582.0,246.25 L583.0,246.29 L584.0,246.40 L585.0,246.36 L586.0,246.55 L587.0,246.47 L588.0,246.61 L589.0,246.57 L590.0,246.52 L591.0,246.54 L592.0,246.41 L593.0,246.33 L594.0,246.35 L595.0,246.35 L596.0,246.31 L597.0,246.27 L598.0,246.28 L599.0,246.28 L600.0,246.32 L601.0,246.25 L602.0,246.26 L603.0,246.30 L604.0,246.31 L605.0,246.35 L606.0,246.48 L607.0,246.54 L608.0,246.51 L609.0,246.52 L610.0,246.45 L611.0,246.40 L612.0,246.27 L613.0,246.23 L614.0,246.13 L615.0,245.98 L616.0,246.08 L617.0,246.01 L618.0,246.15 L619.0,246.23 L620.0,246.34 L621.0,246.30 L622.0,246.39 L623.0,246.49 L624.0,246.34 L625.0,246.34 L626.0,246.42 L627.0,246.39 L628.0,246.45 L629.0,246.42 L630.0,246.38 L631.0,246.44 L632.0,246.34 L633.0,246.31 L634.0,246.30 L635.0,246.22 L636.0,246.19 L637.0,246.22 L638.0,246.20" fill="none" stroke="#3a1a1a" stroke-width="1.05" stroke-linejoin="round"/><path d="M29.5,150.56 L30.5,150.49 L31.5,150.50 L32.5,150.60 L33.5,150.54 L34.5,150.59 L35.5,150.51 L36.5,150.51 L37.5,150.55 L38.5,150.55 L39.5,150.69 L40.5,150.60 L41.5,150.66 L42.5,150.59 L43.5,150.66 L44.5,150.64 L45.5,150.64 L46.5,150.59 L47.5,150.60 L48.5,150.72 L49.5,150.64 L50.5,150.65 L51.5,150.67 L52.5,150.72 L53.5,150.76 L54.5,150.76 L55.5,150.88 L56.5,150.83 L57.5,150.81 L58.5,150.90 L59.5,150.82 L60.5,150.86 L61.5,150.96 L62.5,150.85 L63.5,150.90 L64.5,150.93 L65.5,150.88 L66.5,150.72 L67.5,150.69 L68.5,150.70 L69.5,150.62 L70.5,150.71 L71.5,150.58 L72.5,150.70 L73.5,150.62 L74.5,150.57 L75.5,150.61 L76.5,150.55 L77.5,150.65 L78.5,150.59 L79.5,150.71 L80.5,150.68 L81.5,150.67 L82.5,150.67 L83.5,150.74 L84.5,150.69 L85.5,150.82 L86.5,150.74 L87.5,150.85 L88.5,150.90 L89.5,150.89 L90.5,151.00 L91.5,150.93 L92.5,150.94 L93.5,150.86 L94.5,150.74 L95.5,150.67 L96.5,150.55 L97.5,150.53 L98.5,150.63 L99.5,150.56 L100.5,150.63 L101.5,150.57 L102.5,150.67 L103.5,150.66 L104.5,150.69 L105.5,150.66 L106.5,150.64 L107.5,150.71 L108.5,150.74 L109.5,150.76 L110.5,150.88 L111.5,150.83 L112.5,150.85 L113.5,150.89 L114.5,150.80 L115.5,150.74 L116.5,150.66 L117.5,150.48 L118.5,150.46 L119.5,150.42 L120.5,150.53 L121.5,150.55 L122.5,150.51 L123.5,150.54 L124.5,150.60 L125.5,150.62 L126.5,150.55 L127.5,150.69 L128.5,150.68 L129.5,150.81 L130.5,150.82 L131.5,150.88 L132.5,151.05 L133.5,151.03 L134.5,151.01 L135.5,150.89 L136.5,150.87 L137.5,150.87 L138.5,150.87 L139.5,150.87 L140.5,150.88 L141.5,150.81 L142.5,150.82 L143.5,150.84 L144.5,150.72 L145.5,150.80 L146.5,150.74 L147.5,150.76 L148.5,150.66 L149.5,150.65 L150.5,150.64 L151.5,150.53 L152.5,150.44 L153.5,150.55 L154.5,150.54 L155.5,150.51 L156.5,150.56 L157.5,150.78 L158.5,150.84 L159.5,150.84 L160.5,150.92 L161.5,150.90 L162.5,151.00 L163.5,150.89 L164.5,150.97 L165.5,150.92 L166.5,150.80 L167.5,150.88 L168.5,150.84 L169.5,150.90 L170.5,150.93 L171.5,150.86 L172.5,150.85 L173.5,151.00 L174.5,150.92 L175.5,151.01 L176.5,150.98 L177.5,151.01 L178.5,151.04 L179.5,151.03 L180.5,151.02 L181.5,150.97 L182.5,151.08 L183.5,151.03 L184.5,151.03 L185.5,151.09 L186.5,150.95 L187.5,151.04 L188.5,150.92 L189.5,151.02 L190.5,151.01 L191.5,150.87 L192.5,150.86 L193.5,150.87 L194.5,150.77 L195.5,150.73 L196.5,150.68 L197.5,150.63 L198.5,150.65 L199.5,150.63 L200.5,150.56 L201.5,150.55 L202.5,150.51 L203.5,150.60 L204.5,150.60 L205.5,150.55 L206.5,150.57 L207.5,150.63 L208.5,150.63 L209.5,150.72 L210.5,150.63 L211.5,150.64 L212.5,150.74 L213.5,150.59 L214.5,150.46 L215.5,149.90 L216.5,149.06 L217.5,148.06 L218.5,147.74 L219.5,147.92 L220.5,148.63 L221.5,149.35 L222.5,149.96 L223.5,150.44 L224.5,150.68 L225.5,150.65 L226.5,150.69 L227.5,150.68 L228.5,150.62 L229.5,150.56 L230.5,150.58 L231.5,150.56 L232.5,150.65 L233.5,150.61 L234.5,150.55 L235.5,150.59 L236.5,150.61 L237.5,150.59 L238.5,150.57 L239.5,150.58 L240.5,150.62 L241.5,150.83 L242.5,150.85 L243.5,150.79 L244.5,150.92 L245.5,150.97 L246.5,150.90 L247.5,150.83 L248.5,150.88 L249.5,150.87 L250.5,150.83 L251.5,150.89 L252.5,150.80 L253.5,150.93 L254.5,150.86 L255.5,150.82 L256.5,150.83 L257.5,150.74 L258.5,150.62 L259.5,150.55 L260.5,150.48 L261.5,150.41 L262.5,150.50 L263.5,150.50 L264.5,150.45 L265.5,150.51 L266.5,150.67 L267.5,150.80 L268.5,150.89 L269.5,150.82 L270.5,150.95 L271.5,150.96 L272.5,150.95 L273.5,150.88 L274.5,150.83 L275.5,150.87 L276.5,150.72 L277.5,150.65 L278.5,150.62 L279.5,150.56 L280.5,150.63 L281.5,150.56 L282.5,150.57 L283.5,150.70 L284.5,150.75 L285.5,150.82 L286.5,150.83 L287.5,150.87 L288.5,150.90 L289.5,150.87 L290.5,150.92 L291.5,150.91 L292.5,150.97 L293.5,151.04 L294.5,150.96 L295.5,151.03 L296.5,150.90 L297.5,150.88 L298.5,150.91 L299.5,150.72 L300.5,150.68 L301.5,150.75 L302.5,150.73 L303.5,150.86 L304.5,150.79 L305.5,150.97 L306.5,151.02 L307.5,151.03 L308.5,150.97 L309.5,150.91 L310.5,150.90 L311.5,150.79 L312.5,150.69 L313.5,150.61 L314.5,150.58 L315.5,150.61 L316.5,150.66 L317.5,150.70 L318.5,150.62 L319.5,150.68 L320.5,150.74 L321.5,150.78 L322.5,150.75 L323.5,150.76 L324.5,150.80 L325.5,150.91 L326.5,151.00 L327.5,151.14 L328.5,151.16 L329.5,151.16 L330.5,151.16 L331.5,151.13 L332.5,151.05 L333.5,151.05 L334.5,150.90 L335.5,150.98 L336.5,150.96 L337.5,150.89 L338.5,150.87 L339.5,150.75 L340.5,150.25 L341.5,149.44 L342.5,147.95 L343.5,145.88 L344.5,143.40 L345.5,140.69 L346.5,138.82 L347.5,138.25 L348.5,138.51 L349.5,139.30 L350.5,140.68 L351.5,142.21 L352.5,143.92 L353.5,145.51 L354.5,146.96 L355.5,148.16 L356.5,149.06 L357.5,149.68 L358.5,150.16 L359.5,150.58 L360.5,150.72 L361.5,150.76 L362.5,150.95 L363.5,150.89 L364.5,150.88 L365.5,150.94 L366.5,150.87 L367.5,150.88 L368.5,150.85 L369.5,150.77 L370.5,150.81 L371.5,150.74 L372.5,150.83 L373.5,150.88 L374.5,150.85 L375.5,150.95 L376.5,150.94 L377.5,151.02 L378.5,151.09 L379.5,151.03 L380.5,151.05 L381.5,151.04 L382.5,150.93 L383.5,151.06 L384.5,151.01 L385.5,150.91 L386.5,151.06 L387.5,151.04 L388.5,151.06 L389.5,151.25 L390.5,151.23 L391.5,151.30 L392.5,151.19 L393.5,151.27 L394.5,151.11 L395.5,151.09 L396.5,151.06 L397.5,150.96 L398.5,151.03 L399.5,150.96 L400.5,150.97 L401.5,151.02 L402.5,150.95 L403.5,151.01 L404.5,150.95 L405.5,150.98 L406.5,150.93 L407.5,150.97 L408.5,150.93 L409.5,150.78 L410.5,150.84 L411.5,150.75 L412.5,150.80 L413.5,150.78 L414.5,150.81 L415.5,150.70 L416.5,150.75 L417.5,150.81 L418.5,150.85 L419.5,150.81 L420.5,150.71 L421.5,150.84 L422.5,150.82 L423.5,150.97 L424.5,151.09 L425.5,151.04 L426.5,151.21 L427.5,151.17 L428.5,151.06 L429.5,150.99 L430.5,150.95 L431.5,150.93 L432.5,150.82 L433.5,150.71 L434.5,150.69 L435.5,150.70 L436.5,150.81 L437.5,150.71 L438.5,150.77 L439.5,150.73 L440.5,150.80 L441.5,150.75 L442.5,150.72 L443.5,150.84 L444.5,150.80 L445.5,150.83 L446.5,150.86 L447.5,150.89 L448.5,150.74 L449.5,150.82 L450.5,150.82 L451.5,150.92 L452.5,151.03 L453.5,151.06 L454.5,150.96 L455.5,150.99 L456.5,151.11 L457.5,151.12 L458.5,151.11 L459.5,151.16 L460.5,151.14 L461.5,151.27 L462.5,151.20 L463.5,151.27 L464.5,151.20 L465.5,151.09 L466.5,151.11 L467.5,151.07 L468.5,151.17 L469.5,151.12 L470.5,151.04 L471.5,151.09 L472.5,151.14 L473.5,151.18 L474.5,151.22 L475.5,151.20 L476.5,151.20 L477.5,151.09 L478.5,151.11 L479.5,150.98 L480.5,150.84 L481.5,150.83 L482.5,150.87 L483.5,150.71 L484.5,150.73 L485.5,150.81 L486.5,150.74 L487.5,150.73 L488.5,150.76 L489.5,150.72 L490.5,150.78 L491.5,150.82 L492.5,150.97 L493.5,151.07 L494.5,151.01 L495.5,151.18 L496.5,151.26 L497.5,151.28 L498.5,151.24 L499.5,151.17 L500.5,151.11 L501.5,151.02 L502.5,150.96 L503.5,151.01 L504.5,151.03 L505.5,151.06 L506.5,151.06 L507.5,151.05 L508.5,151.18 L509.5,151.21 L510.5,151.20 L511.5,151.22 L512.5,151.16 L513.5,151.15 L514.5,151.08 L515.5,150.99 L516.5,150.99 L517.5,150.97 L518.5,151.07 L519.5,150.98 L520.5,150.94 L521.5,150.90 L522.5,150.88 L523.5,150.88 L524.5,150.83 L525.5,150.81 L526.5,150.96 L527.5,150.90 L528.5,150.91 L529.5,150.95 L530.5,150.92 L531.5,150.90 L532.5,150.89 L533.5,150.91 L534.5,150.90 L535.5,150.95 L536.5,150.90 L537.5,150.94 L538.5,150.84 L539.5,150.94 L540.5,150.93 L541.5,150.94 L542.5,151.06 L543.5,151.22 L544.5,151.37 L545.5,151.32 L546.5,151.39 L547.5,151.32 L548.5,151.36 L549.5,151.19 L550.5,151.22 L551.5,151.25 L552.5,151.13 L553.5,151.13 L554.5,151.08 L555.5,151.07 L556.5,151.06 L557.5,151.10 L558.5,151.00 L559.5,151.02 L560.5,150.99 L561.5,151.06 L562.5,151.11 L563.5,151.09 L564.5,151.03 L565.5,151.13 L566.5,151.17 L567.5,151.12 L568.5,151.03 L569.5,151.14 L570.5,151.15 L571.5,151.05 L572.5,151.01 L573.5,151.02 L574.5,151.07 L575.5,151.11 L576.5,151.04 L577.5,151.04 L578.5,150.89 L579.5,150.87 L580.5,150.92 L581.5,150.91 L582.5,150.92 L583.5,151.05 L584.5,151.11 L585.5,151.17 L586.5,151.31 L587.5,151.31 L588.5,151.40 L589.5,151.34 L590.5,151.33 L591.5,151.31 L592.5,151.22 L593.5,151.22 L594.5,151.13 L595.5,151.28 L596.5,151.25 L597.5,151.35 L598.5,151.25 L599.5,151.39 L600.5,151.45 L601.5,151.41 L602.5,151.37 L603.5,151.35 L604.5,151.30 L605.5,151.33 L606.5,151.16 L607.5,151.22 L608.5,151.13 L609.5,151.14 L610.5,151.16 L611.5,151.18 L612.5,151.22 L613.5,151.23 L614.5,151.21 L615.5,151.29 L616.5,151.21 L617.5,151.26 L618.5,151.23 L619.5,151.19 L620.5,151.07 L621.5,151.10 L622.5,151.11 L623.5,151.03 L624.5,150.99 L625.5,151.01 L626.5,151.05 L627.5,150.89 L628.5,150.85 L629.5,150.92 L630.5,150.95 L631.5,151.03 L632.5,151.06 L633.5,151.27 L634.5,151.26 L635.5,151.44 L636.5,151.38" fill="none" stroke="#40bc40" stroke-width="1.05" stroke-linejoin="round"/>
<g transform="translate(2.9,11.6) scale(1,1.02)"><text x="0" y="0" font-size="11.5">pA</text></g>
<g transform="translate(20.20,444.65) scale(0.95,1.1)"><text x="-16.68" y="0" font-size="12.0" xml:space="preserve">0.0</text></g><g transform="translate(20.20,284.25) scale(0.95,1.1)"><text x="-16.68" y="0" font-size="12.0" xml:space="preserve">5.0</text></g><g transform="translate(20.20,123.85) scale(0.95,1.1)"><path transform="translate(-23.36,0) scale(0.005859,-0.005625)" d="M763,0 L583,0 L583,1147 Q518,1085 412,1023 Q306,961 222,930 L222,1104 Q373,1175 486,1276 Q599,1377 646,1472 L763,1472 Z" fill="#000"/><text x="-16.68" y="0" font-size="12.0" xml:space="preserve">0.0</text></g>
<g transform="translate(27.60,480.60) scale(0.95,1.1)"><text x="-8.34" y="0" font-size="12.0" xml:space="preserve">0.0</text></g><g transform="translate(114.60,480.60) scale(0.95,1.1)"><path transform="translate(-8.34,0) scale(0.005859,-0.005625)" d="M763,0 L583,0 L583,1147 Q518,1085 412,1023 Q306,961 222,930 L222,1104 Q373,1175 486,1276 Q599,1377 646,1472 L763,1472 Z" fill="#000"/><text x="-1.67" y="0" font-size="12.0" xml:space="preserve">.0</text></g><g transform="translate(201.60,480.60) scale(0.95,1.1)"><text x="-8.34" y="0" font-size="12.0" xml:space="preserve">2.0</text></g><g transform="translate(288.60,480.60) scale(0.95,1.1)"><text x="-8.34" y="0" font-size="12.0" xml:space="preserve">3.0</text></g><g transform="translate(375.60,480.60) scale(0.95,1.1)"><text x="-8.34" y="0" font-size="12.0" xml:space="preserve">4.0</text></g><g transform="translate(462.60,480.60) scale(0.95,1.1)"><text x="-8.34" y="0" font-size="12.0" xml:space="preserve">5.0</text></g><g transform="translate(549.60,480.60) scale(0.95,1.1)"><text x="-8.34" y="0" font-size="12.0" xml:space="preserve">6.0</text></g><g transform="translate(628.70,480.60) scale(0.95,1.1)"><text x="0.00" y="0" font-size="12.0" xml:space="preserve">7.0 min</text></g>
<g transform="translate(263.70,393.60) scale(1.0,1.06)"><path transform="translate(-4.03,0) scale(0.007080,-0.006797)" d="M763,0 L583,0 L583,1147 Q518,1085 412,1023 Q306,961 222,930 L222,1104 Q373,1175 486,1276 Q599,1377 646,1472 L763,1472 Z" fill="#000"/></g><g transform="translate(267.50,289.70) scale(1.0,1.08)"><text x="-4.03" y="0" font-size="14.5" xml:space="preserve">2</text></g><g transform="translate(309.50,217.30) scale(1.0,1.06)"><text x="-4.03" y="0" font-size="14.5" xml:space="preserve">3</text></g><g transform="translate(347.20,125.00) scale(1.0,1.06)"><text x="-4.03" y="0" font-size="14.5" xml:space="preserve">4</text></g>
<rect x="28.1" y="469.2" width="1.4" height="2" fill="#000"/>
</svg>
</body></html>
